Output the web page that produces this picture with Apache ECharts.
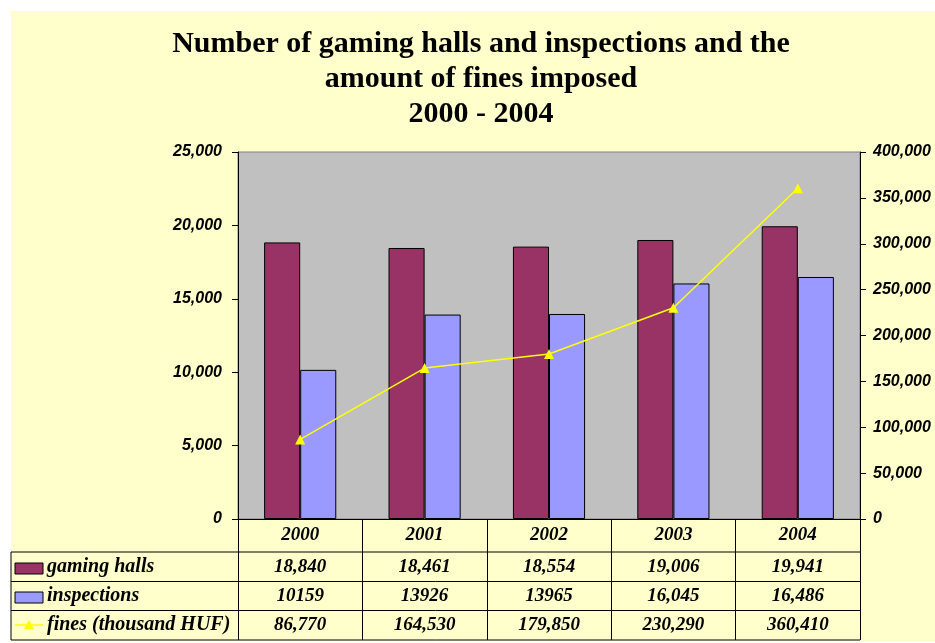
<!DOCTYPE html>
<html lang="en">
<head>
  <meta charset="UTF-8">
  <title>Gaming halls</title>
  <style>
    * { padding: 0; margin: 0; }
    html, body { width: 100%; height: 100%; background: #fff; }
    #chart { width: 935px; height: 643px; }
  </style>
  <script src="https://cdn.jsdelivr.net/npm/echarts@6/dist/echarts.min.js"></script>
</head>
<body>
  <div id="chart"></div>
  <script>
    // data
    var years = ['2000', '2001', '2002', '2003', '2004'];
    var gamingHalls = [18840, 18461, 18554, 19006, 19941];
    var inspections = [10159, 13926, 13965, 16045, 16486];
    var fines = [86770, 164530, 179850, 230290, 360410];
    var hallsText = ['18,840', '18,461', '18,554', '19,006', '19,941'];
    var inspectionsText = ['10159', '13926', '13965', '16,045', '16,486'];
    var finesText = ['86,770', '164,530', '179,850', '230,290', '360,410'];
    var rowNames = ['gaming halls', 'inspections', 'fines (thousand HUF)'];

    var serif = '"Liberation Serif", "Times New Roman", serif';
    var sans = '"Liberation Sans", Arial, sans-serif';

    var chart = echarts.init(document.getElementById('chart'));

    var option = {
      backgroundColor: '#fff',
      animation: false,
      title: {
        text: 'Number of gaming halls and inspections and the\namount of fines imposed\n2000 - 2004',
        left: 476,
        top: 22,
        textAlign: 'center',
        textStyle: {
          fontFamily: serif,
          fontWeight: 'bold',
          fontSize: 30,
          lineHeight: 35,
          color: '#000'
        }
      },
      grid: {
        left: 238,
        right: 75,
        top: 152,
        bottom: 124,
        show: true,
        backgroundColor: '#C0C0C0',
        borderColor: '#808080',
        borderWidth: 1
      },
      xAxis: {
        type: 'category',
        data: years,
        axisLine: { lineStyle: { color: '#000', width: 1 } },
        axisTick: { show: true, length: 121, lineStyle: { color: '#000', width: 1 } },
        axisLabel: {
          margin: 7,
          fontFamily: serif,
          fontWeight: 'bold',
          fontStyle: 'italic',
          fontSize: 19,
          color: '#000'
        }
      },
      yAxis: [{
        type: 'value',
        min: 0,
        max: 25000,
        interval: 5000,
        splitLine: { show: false },
        axisLine: { show: true, lineStyle: { color: '#000' } },
        axisTick: { show: true, length: 6, lineStyle: { color: '#000' } },
        axisLabel: {
          margin: 16,
          fontFamily: sans,
          fontWeight: 'bold',
          fontStyle: 'italic',
          fontSize: 16,
          color: '#000',
          formatter: function (v) { return v.toLocaleString('en-US'); }
        }
      }, {
        type: 'value',
        position: 'right',
        min: 0,
        max: 400000,
        interval: 50000,
        splitLine: { show: false },
        axisLine: { show: true, lineStyle: { color: '#000' } },
        axisTick: { show: true, length: 6, lineStyle: { color: '#000' } },
        axisLabel: {
          margin: 13,
          fontFamily: sans,
          fontWeight: 'bold',
          fontStyle: 'italic',
          fontSize: 16,
          color: '#000',
          formatter: function (v) { return v.toLocaleString('en-US'); }
        }
      }],
      series: [{
        name: 'gaming halls',
        type: 'bar',
        data: gamingHalls,
        barGap: '0%',
        barCategoryGap: '42%',
        itemStyle: { color: '#993366', borderColor: '#000', borderWidth: 1 }
      }, {
        name: 'inspections',
        type: 'bar',
        data: inspections,
        itemStyle: { color: '#9999FF', borderColor: '#000', borderWidth: 1 }
      }, {
        name: 'fines (thousand HUF)',
        type: 'line',
        yAxisIndex: 1,
        data: fines,
        symbol: 'triangle',
        symbolSize: 10,
        lineStyle: { color: '#FFFF00', width: 1.5 },
        itemStyle: { color: '#FFFF00' },
        z: 5
      }]
    };

    chart.setOption(option);

    // table under the chart
    function buildTable() {
      var rowsY = [552, 581.5, 610.5, 640];
      var rowMid = [567, 596, 625];
      var rowTexts = [hallsText, inspectionsText, finesText];
      var els = [];
      // yellow page area
      els.push({ type: 'rect', z: -10, silent: true,
        shape: { x: 11, y: 11, width: 924, height: 630 },
        style: { fill: '#FFFFCC' } });
      rowsY.forEach(function (y) {
        els.push({ type: 'line', z: 10, shape: { x1: 11, y1: y, x2: 860, y2: y },
          style: { stroke: '#000', lineWidth: 1 } });
      });
      els.push({ type: 'line', z: 10, shape: { x1: 11, y1: 552, x2: 11, y2: 640 },
        style: { stroke: '#000', lineWidth: 1 } });
      // legend keys
      els.push({ type: 'rect', z: 10, shape: { x: 15, y: 563, width: 28, height: 11 },
        style: { fill: '#993366', stroke: '#000', lineWidth: 1 } });
      els.push({ type: 'rect', z: 10, shape: { x: 15, y: 592, width: 28, height: 11 },
        style: { fill: '#9999FF', stroke: '#000', lineWidth: 1 } });
      els.push({ type: 'line', z: 10, shape: { x1: 15, y1: 625, x2: 43, y2: 625 },
        style: { stroke: '#FFFF00', lineWidth: 1.5 } });
      els.push({ type: 'polygon', z: 10, shape: { points: [[29, 620], [34, 629], [24, 629]] },
        style: { fill: '#FFFF00' } });
      rowNames.forEach(function (name, r) {
        els.push({ type: 'text', z: 10, x: 47, y: rowMid[r],
          style: { text: name, fontFamily: serif, fontWeight: 'bold', fontStyle: 'italic',
            fontSize: 20, fill: '#000', align: 'left', verticalAlign: 'middle' } });
        rowTexts[r].forEach(function (t, i) {
          var x = chart.convertToPixel({ xAxisIndex: 0 }, years[i]);
          els.push({ type: 'text', z: 10, x: x, y: rowMid[r],
            style: { text: t, fontFamily: serif, fontWeight: 'bold', fontStyle: 'italic',
              fontSize: 19, fill: '#000', align: 'center', verticalAlign: 'middle' } });
        });
      });
      chart.setOption({ graphic: els });
    }
    buildTable();
  </script>
</body>
</html>
